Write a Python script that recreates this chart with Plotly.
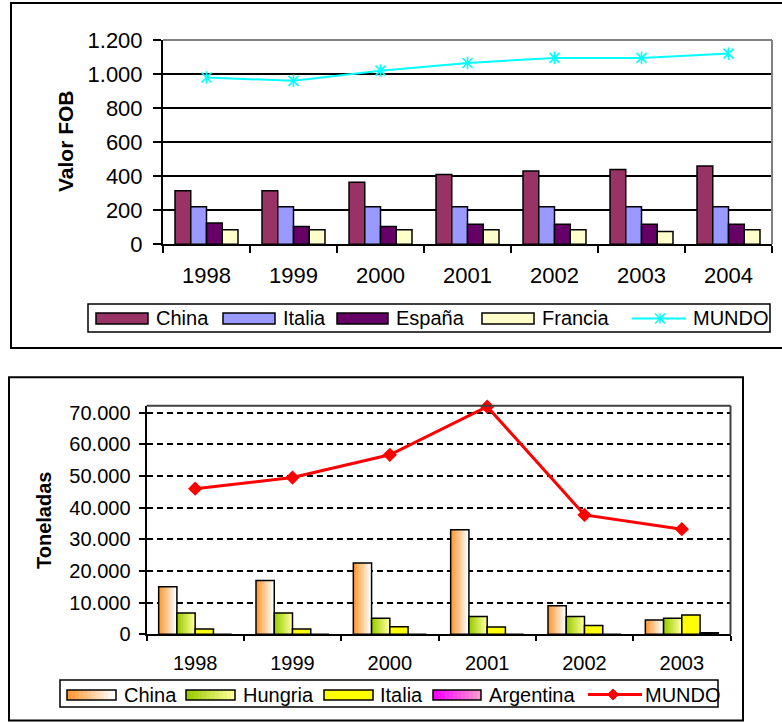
import plotly.graph_objects as go

W, H = 782, 722

# ---------------- Valor FOB (upper chart) ----------------
fob_years = ["1998", "1999", "2000", "2001", "2002", "2003", "2004"]
fob_china = [315, 315, 365, 410, 430, 440, 460]
fob_italia = [220, 220, 220, 220, 220, 220, 220]
fob_espana = [125, 105, 105, 118, 118, 118, 118]
fob_francia = [85, 85, 85, 85, 85, 75, 85]
fob_mundo = [980, 960, 1020, 1065, 1095, 1095, 1120]
fob_tick_vals = [0, 200, 400, 600, 800, 1000, 1200]
fob_tick_text = ["0", "200", "400", "600", "800", "1.000", "1.200"]

# ---------------- Toneladas (lower chart) ----------------
ton_years = ["1998", "1999", "2000", "2001", "2002", "2003"]
ton_china = [15000, 17000, 22500, 33000, 9000, 4500]
ton_hungria = [6700, 6700, 5100, 5600, 5600, 5100]
ton_italia = [1700, 1700, 2400, 2300, 2800, 6100]
ton_argentina = [0, 0, 0, 0, 0, 500]
ton_mundo = [46000, 49500, 56700, 71900, 37700, 33200]
ton_tick_vals = [0, 10000, 20000, 30000, 40000, 50000, 60000, 70000]
ton_tick_text = ["0", "10.000", "20.000", "30.000", "40.000", "50.000", "60.000", "70.000"]

FONT = "Liberation Sans, Arial, sans-serif"


def px(x):
    return x / W


def py(y):
    return 1 - y / H


def hex_rgb(h):
    h = h.lstrip("#")
    return tuple(int(h[i:i + 2], 16) for i in (0, 2, 4))


def blend(c0, c1, t):
    a, b = hex_rgb(c0), hex_rgb(c1)
    return "rgb(%d,%d,%d)" % tuple(round(a[i] + (b[i] - a[i]) * t) for i in range(3))


fig = go.Figure()


def solid_bars(x, y, offset, width, color, xa, ya):
    fig.add_trace(go.Bar(
        x=x, y=y, offset=offset, width=width, xaxis=xa, yaxis=ya,
        marker=dict(color=color, line=dict(color="black", width=1.5)),
        showlegend=False, hoverinfo="skip"))


def gradient_bars(x, y, offset, width, c_left, c_right, xa, ya, steps=12):
    # horizontal colour ramp built from overlapping slices, then one outline on top
    for k in range(steps):
        t = k / (steps - 1)
        fig.add_trace(go.Bar(
            x=x, y=y, offset=offset + width * k / steps,
            width=width * (steps - k) / steps, xaxis=xa, yaxis=ya,
            marker=dict(color=blend(c_left, c_right, t), line=dict(width=0)),
            showlegend=False, hoverinfo="skip"))
    fig.add_trace(go.Bar(
        x=x, y=y, offset=offset, width=width, xaxis=xa, yaxis=ya,
        marker=dict(color="rgba(0,0,0,0)", line=dict(color="black", width=1.5)),
        showlegend=False, hoverinfo="skip"))


# upper chart bars
bw1 = 0.181
for i, (vals, col) in enumerate([(fob_china, "#993366"), (fob_italia, "#9999FF"),
                                 (fob_espana, "#660066"), (fob_francia, "#FFFFCC")]):
    solid_bars(fob_years, vals, -2 * bw1 + i * bw1, bw1, col, "x", "y")

fig.add_trace(go.Scatter(
    x=fob_years, y=fob_mundo, mode="lines+markers", xaxis="x", yaxis="y",
    line=dict(color="#00FFFF", width=2),
    marker=dict(symbol="x-thin-open", size=10, color="#00FFFF",
                line=dict(color="#00FFFF", width=1.6)),
    cliponaxis=False, showlegend=False, hoverinfo="skip"))
fig.add_trace(go.Scatter(
    x=fob_years, y=fob_mundo, mode="markers", xaxis="x", yaxis="y",
    marker=dict(symbol="line-ns-open", size=9, color="#00FFFF",
                line=dict(color="#00FFFF", width=1.6)),
    cliponaxis=False, showlegend=False, hoverinfo="skip"))

# lower chart bars
bw2 = 0.1875
gradient_bars(ton_years, ton_china, -2 * bw2, bw2, "#FF9933", "#FFFFFF", "x2", "y2")
gradient_bars(ton_years, ton_hungria, -bw2, bw2, "#99CC00", "#FFFF99", "x2", "y2")
solid_bars(ton_years, ton_italia, 0, bw2, "#FFFF00", "x2", "y2")
gradient_bars(ton_years, ton_argentina, bw2, bw2, "#FF00FF", "#FF99CC", "x2", "y2")

fig.add_trace(go.Scatter(
    x=ton_years, y=ton_mundo, mode="lines+markers", xaxis="x2", yaxis="y2",
    line=dict(color="#FF0000", width=3),
    marker=dict(symbol="diamond", size=11, color="#FF0000"),
    cliponaxis=False, showlegend=False, hoverinfo="skip"))

# ---------------- axes ----------------
common_x = dict(type="category", showline=True, linecolor="black", linewidth=2,
                ticks="outside", tickson="boundaries", tickwidth=2, tickcolor="black",
                showgrid=False, zeroline=False, fixedrange=True, automargin=False)
common_y = dict(showline=True, linecolor="black", linewidth=2, ticks="outside",
                tickwidth=2, tickcolor="black", zeroline=False, fixedrange=True,
                automargin=False)

fig.update_layout(
    template="none",
    xaxis=dict(common_x, domain=[px(163), px(772)], anchor="y", ticklen=7,
               tickfont=dict(family=FONT, size=22, color="black"), ticklabelstandoff=10),
    yaxis=dict(common_y, domain=[py(244.3), py(40)], anchor="x", range=[0, 1200],
               tickvals=fob_tick_vals, ticktext=fob_tick_text, ticklen=8,
               showgrid=True, gridcolor="black", gridwidth=1.5,
               tickfont=dict(family=FONT, size=22, color="black"), ticklabelstandoff=6),
    xaxis2=dict(common_x, domain=[px(146.5), px(730.5)], anchor="y2", ticklen=5,
                tickfont=dict(family=FONT, size=20, color="black"), ticklabelstandoff=10),
    yaxis2=dict(common_y, domain=[py(634.3), py(405.7)], anchor="x2", range=[0, 72200],
                tickvals=ton_tick_vals, ticktext=ton_tick_text, ticklen=6,
                showgrid=True, gridcolor="black", gridwidth=1.5, griddash="6px,4px",
                tickfont=dict(family=FONT, size=20, color="black"), ticklabelstandoff=4),
    barmode="overlay",
    width=W, height=H,
    margin=dict(l=0, r=0, t=0, b=0, pad=0, autoexpand=False),
    paper_bgcolor="white", plot_bgcolor="white",
    font=dict(family=FONT, color="black"),
)

shapes = []
annotations = []

# outer frames of the two charts
shapes.append(dict(type="rect", xref="paper", yref="paper",
                   x0=px(11), x1=px(800), y0=py(348), y1=py(3),
                   line=dict(color="black", width=2)))
shapes.append(dict(type="rect", xref="paper", yref="paper",
                   x0=px(9), x1=px(743), y0=py(720.5), y1=py(377.3),
                   line=dict(color="black", width=2)))

# plot-area borders (top and right)
for xa, ya, col in [("x", "y", "#808080"), ("x2", "y2", "#404040")]:
    shapes.append(dict(type="line", xref=xa + " domain", yref=ya + " domain",
                       x0=0, x1=1, y0=1, y1=1, line=dict(color=col, width=2)))
    shapes.append(dict(type="line", xref=xa + " domain", yref=ya + " domain",
                       x0=1, x1=1, y0=0, y1=1, line=dict(color=col, width=2)))

# axis titles
annotations.append(dict(text="<b>Valor FOB</b>", xref="paper", yref="paper",
                        x=px(65), y=py(141), textangle=-90, showarrow=False,
                        xanchor="center", yanchor="middle",
                        font=dict(family=FONT, size=21, color="black")))
annotations.append(dict(text="<b>Toneladas</b>", xref="paper", yref="paper",
                        x=px(44), y=py(521), textangle=-90, showarrow=False,
                        xanchor="center", yanchor="middle",
                        font=dict(family=FONT, size=20, color="black")))


def legend_box(x0, x1, y0, y1):
    shapes.append(dict(type="rect", xref="paper", yref="paper",
                       x0=px(x0), x1=px(x1), y0=py(y1), y1=py(y0),
                       line=dict(color="black", width=1.5), fillcolor="white"))


def legend_swatch(x0, x1, y0, y1, c_left, c_right=None, steps=12):
    if c_right is None:
        shapes.append(dict(type="rect", xref="paper", yref="paper",
                           x0=px(x0), x1=px(x1), y0=py(y1), y1=py(y0),
                           line=dict(width=0), fillcolor=c_left))
    else:
        w = (x1 - x0) / steps
        for k in range(steps):
            shapes.append(dict(type="rect", xref="paper", yref="paper",
                               x0=px(x0 + k * w), x1=px(min(x1, x0 + (k + 1.3) * w)),
                               y0=py(y1), y1=py(y0), line=dict(width=0),
                               fillcolor=blend(c_left, c_right, k / (steps - 1))))
    shapes.append(dict(type="rect", xref="paper", yref="paper",
                       x0=px(x0), x1=px(x1), y0=py(y1), y1=py(y0),
                       line=dict(color="black", width=1.5)))


def legend_text(x, y, text, size=20):
    annotations.append(dict(text=text, xref="paper", yref="paper", x=px(x), y=py(y),
                            xanchor="left", yanchor="middle", showarrow=False,
                            font=dict(family=FONT, size=size, color="black")))


# upper legend
legend_box(88, 770, 304, 332)
ly = 318.5
for (x0, x1, tx, name, col) in [(96, 148, 154, "China", "#993366"),
                                (223, 275, 281, "Italia", "#9999FF"),
                                (337, 388, 394, "España", "#660066"),
                                (482, 534, 540, "Francia", "#FFFFCC")]:
    legend_swatch(x0, x1, 313, 324, col)
    legend_text(tx, ly, name)
shapes.append(dict(type="line", xref="paper", yref="paper", x0=px(632), x1=px(686),
                   y0=py(ly), y1=py(ly), line=dict(color="#00FFFF", width=2)))
for (ax0, ay0, ax1, ay1) in [(655, ly - 5, 665, ly + 5), (655, ly + 5, 665, ly - 5),
                             (660, ly - 5, 660, ly + 5)]:
    shapes.append(dict(type="line", xref="paper", yref="paper", x0=px(ax0), x1=px(ax1),
                       y0=py(ay0), y1=py(ay1), line=dict(color="#00FFFF", width=1.6)))
legend_text(691, ly, "MUNDO")

# lower legend
legend_box(60, 718, 680, 707)
ly2 = 694.5
legend_swatch(67, 116, 690, 700, "#FF9933", "#FFFFFF")
legend_text(122, ly2, "China")
legend_swatch(186, 235, 690, 700, "#99CC00", "#FFFF99")
legend_text(241, ly2, "Hungria")
legend_swatch(324, 373, 690, 700, "#FFFF00")
legend_text(378, ly2, "Italia")
legend_swatch(433, 481, 690, 700, "#FF00FF", "#FF99CC")
legend_text(487, ly2, "Argentina")
shapes.append(dict(type="line", xref="paper", yref="paper", x0=px(588), x1=px(642),
                   y0=py(ly2), y1=py(ly2), line=dict(color="#FF0000", width=3)))
d = 5.5
shapes.append(dict(type="path", xref="paper", yref="paper",
                   path="M %f %f L %f %f L %f %f L %f %f Z" % (
                       px(613), py(ly2 - d), px(613 + d), py(ly2),
                       px(613), py(ly2 + d), px(613 - d), py(ly2)),
                   fillcolor="#FF0000", line=dict(color="#FF0000", width=1)))
legend_text(643, ly2, "MUNDO")

fig.update_layout(shapes=shapes, annotations=annotations)

fig.write_html("out.html")
